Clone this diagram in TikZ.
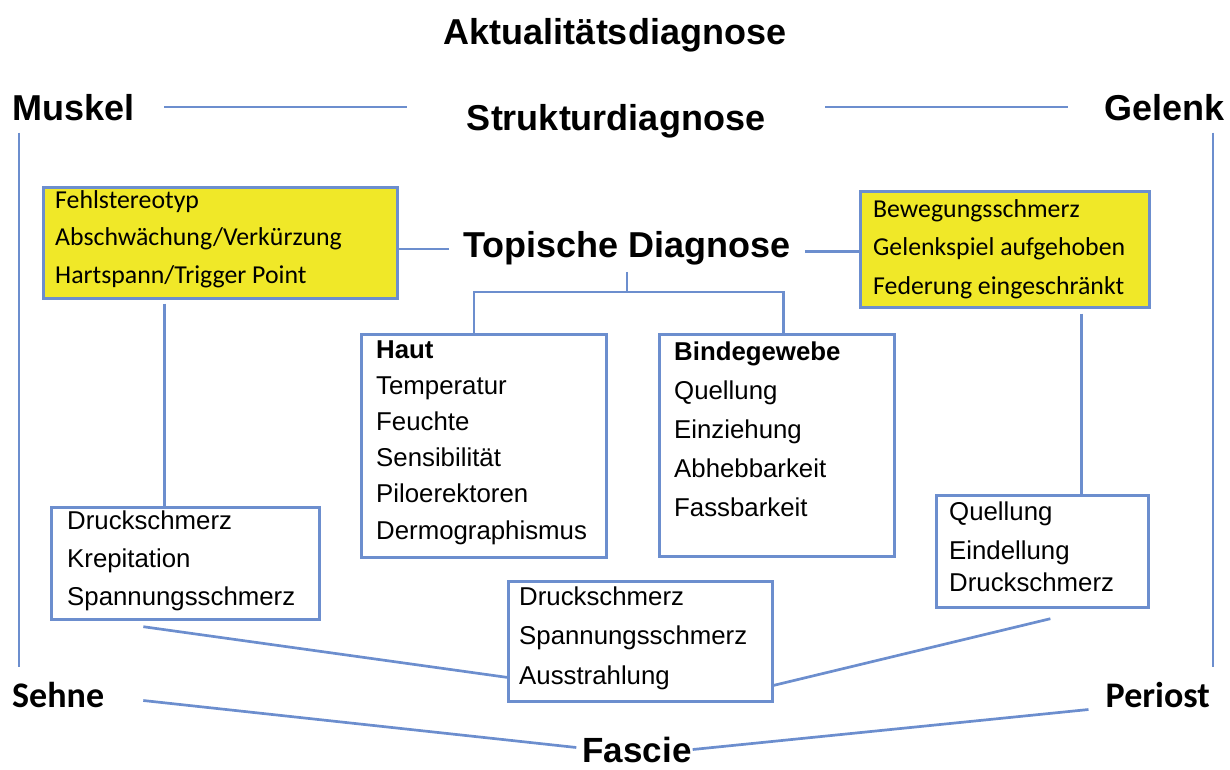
\documentclass[tikz,border=0pt]{standalone}
\usepackage{fontspec}
\newfontfamily\arialf{Liberation Sans}
\newfontfamily\calf{Carlito}
\newcommand\ltab[1]{\begin{tabular}[t]{@{}l@{}}#1\end{tabular}}
\definecolor{lnblue}{RGB}{108,142,206}
\definecolor{ylw}{RGB}{240,232,40}
\begin{document}
\begin{tikzpicture}[x=1pt,y=-1pt,
  ln/.style={draw=lnblue, line width=2.7pt},
  big/.style={inner sep=0pt, font=\arialf\bfseries\fontsize{#1}{40}\selectfont},
  big/.default=36,
  bigc/.style={inner sep=0pt, font=\calf\bfseries\fontsize{36}{40}\selectfont},
  wbox/.style={draw=lnblue, line width=2.7pt, fill=white, inner sep=0pt, anchor=north west},
  ybox/.style={wbox, fill=ylw},
  atxt/.style={inner sep=0pt, anchor=base west, font=\arialf\fontsize{25.8}{#1}\selectfont},
  ctxt/.style={inner sep=0pt, anchor=base west, font=\calf\fontsize{25.8}{#1}\selectfont}
]
\useasboundingbox (0,0) rectangle (1230,769);

% headings
\node[big, anchor=base] (akt) at (615,44) {Aktualitätsdiagnose};
\node[big, anchor=base west] (muskel) at (12,120) {Muskel};
\node[big, anchor=base] (struk) at (616,130) {Strukturdiagnose};
\node[big, anchor=base east] (gelenk) at (1225,120) {Gelenk};
\node[big, anchor=base] (top) at (627,257) {Topische Diagnose};
\node[bigc, anchor=base west] (sehne) at (12,707) {Sehne};
\node[bigc, anchor=base east] (periost) at (1210,707) {Periost};
\node[big=35, anchor=base] (fascie) at (637,762) {Fascie};

% boxes
\node[ybox, minimum width=354pt, minimum height=111pt] (yl) at (42,186) {};
\node[ybox, minimum width=289pt, minimum height=116pt] (yr) at (859,190) {};
\node[wbox, minimum width=245pt, minimum height=223pt] (haut) at (360,333) {};
\node[wbox, minimum width=235pt, minimum height=222pt] (bind) at (658,333) {};
\node[wbox, minimum width=268pt, minimum height=112pt] (dl) at (50,506) {};
\node[wbox, minimum width=212pt, minimum height=112pt] (dr) at (935,494) {};
\node[wbox, minimum width=264pt, minimum height=120pt] (dm) at (507,580) {};

% box texts
\node[ctxt=37.5] (ylt) at (55,208) {\ltab{Fehlstereotyp\\Abschwächung/Verkürzung\\Hartspann/Trigger Point}};
\node[ctxt=38.5] (yrt) at (873,217) {\ltab{Bewegungsschmerz\\Gelenkspiel aufgehoben\\Federung eingeschränkt}};
\node[atxt=36.2] (hautt) at (376,358) {\ltab{\textbf{Haut}\\Temperatur\\Feuchte\\Sensibilität\\Piloerektoren\\Dermographismus}};
\node[atxt=39.2] (bindt) at (674,360) {\ltab{\textbf{Bindegewebe}\\Quellung\\Einziehung\\Abhebbarkeit\\Fassbarkeit}};
\node[atxt=38] (dlt) at (67,529) {\ltab{Druckschmerz\\Krepitation\\Spannungsschmerz}};
\node[atxt=39.5] (dmt) at (519,605) {\ltab{Druckschmerz\\Spannungsschmerz\\Ausstrahlung}};
\node[atxt=39] (drt) at (949,520) {\ltab{Quellung\\Eindellung\\[-7pt]Druckschmerz}};

% connectors
\draw[ln, shorten <=30pt, shorten >=60pt] (muskel.east) -- (muskel.east -| struk.west);
\draw[ln, shorten <=37pt, shorten >=60pt] (gelenk.west) -- (gelenk.west -| struk.east);
\draw[ln, shorten <=12pt, shorten >=15pt] ([xshift=7pt]muskel.south west) -- ([xshift=7pt]sehne.north west);
\draw[ln, shorten <=12pt, shorten >=15pt] ([xshift=-12pt]gelenk.south east) -- ([xshift=3pt]periost.north east);
\draw[ln, shorten >=14pt] ([yshift=-6pt]yl.east) -- ([yshift=-6pt]yl.east -| top.west);
\draw[ln, shorten >=14pt] ([yshift=-2pt]yr.west) -- ([yshift=-2pt]yr.west -| top.east);
\coordinate (tj) at (627,292);
\draw[ln, shorten <=7pt] (top.south) -- (tj);
\draw[ln] (tj) -| ([xshift=-10pt]haut.north);
\draw[ln] (tj) -| ([xshift=6.5pt]bind.north);
\draw[ln, shorten <=4pt] ([xshift=-56pt]yl.south) -- ([xshift=-56pt]yl.south |- dl.north);
\draw[ln, shorten <=5pt] ([xshift=76.5pt]yr.south) -- ([xshift=76.5pt]yr.south |- dr.north);
\draw[ln] ([xshift=-42pt,yshift=-6pt]dl.south) -- ([yshift=-36pt]dm.west);
\draw[ln] ([yshift=-44pt]dm.east) -- ([xshift=8pt,yshift=-10pt]dr.south);
\draw[ln] ([xshift=39pt,yshift=-6pt]sehne.east) -- ([xshift=-6pt,yshift=2pt]fascie.west);
\draw[ln] ([xshift=-17pt,yshift=-15pt]periost.west) -- ([xshift=1pt,yshift=0pt]fascie.east);
\end{tikzpicture}
\end{document}
